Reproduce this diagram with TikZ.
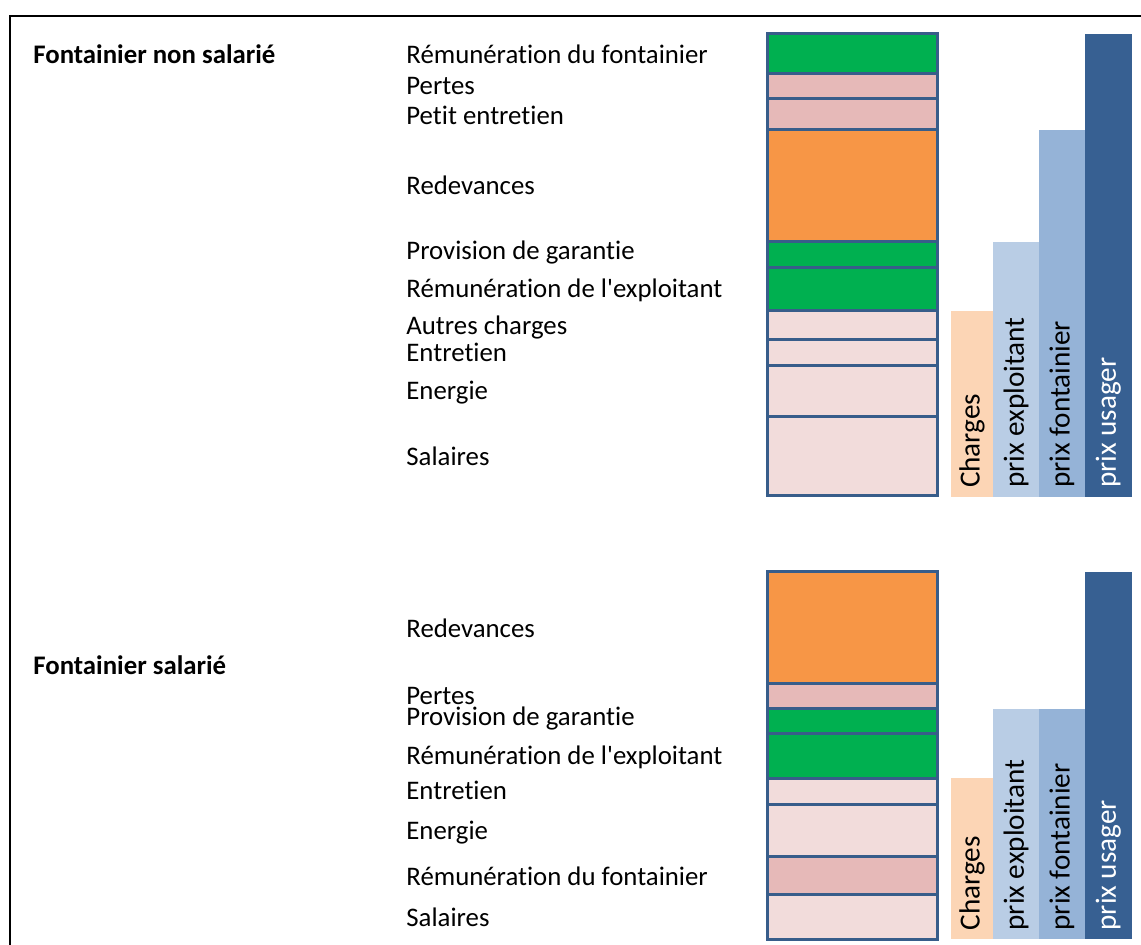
\documentclass[tikz,border=0pt]{standalone}
\usepackage{fontspec}
\setmainfont{Carlito}[Ligatures={NoCommon}]
\usepackage{tikz}
\definecolor{qqbqvq}{rgb}{0.,0.6901960784313725,0.3137254901960784}
\definecolor{ewbzby}{rgb}{0.9019607843137255,0.7254901960784313,0.7215686274509804}
\definecolor{fxzwuw}{rgb}{0.9686274509803922,0.5882352941176471,0.27450980392156865}
\definecolor{fsdcdb}{rgb}{0.9490196078431372,0.8627450980392157,0.8588235294117647}
\definecolor{tyvdya}{rgb}{0.2196078431372549,0.36470588235294116,0.5411764705882353}
\definecolor{fcdvbv}{rgb}{0.9882352941176471,0.8352941176470589,0.7098039215686275}
\definecolor{bzcdev}{rgb}{0.7254901960784313,0.803921568627451,0.8980392156862745}
\definecolor{zvbtdx}{rgb}{0.5843137254901961,0.7019607843137254,0.8431372549019608}
\definecolor{txwqzs}{rgb}{0.21568627450980393,0.3764705882352941,0.5725490196078431}
\begin{document}
\begin{tikzpicture}[x=0.5pt,y=-0.5pt,font=\fontsize{13.4pt}{16pt}\selectfont,
  lbl/.style={anchor=base west,inner sep=0pt},
  seg/.style={line width=1.5pt,draw=tyvdya},
  barlbl/.style={rotate=90,anchor=west,inner sep=4.2pt,font=\fontsize{14.6pt}{17pt}\selectfont}]
\useasboundingbox (0,0) rectangle (1141,945);
\clip (0,0) rectangle (1141,945);
\draw [line width=1.2pt,color=black] (10,16) rectangle (1200,1000);
% fontainier non salarie
\node[lbl,font=\fontsize{13.4pt}{16pt}\selectfont\bfseries] (titreA) at (33,64) {Fontainier non salarié};
\draw [seg,fill=qqbqvq] (767,34) rectangle (937,73.3);
\draw [seg,fill=ewbzby] (767,73.3) rectangle (937,98.3);
\draw [seg,fill=ewbzby] (767,98.3) rectangle (937,130);
\draw [seg,fill=fxzwuw] (767,130) rectangle (937,241.7);
\draw [seg,fill=qqbqvq] (767,241.7) rectangle (937,267.3);
\draw [seg,fill=qqbqvq] (767,267.3) rectangle (937,311);
\draw [seg,fill=fsdcdb] (767,311) rectangle (937,340);
\draw [seg,fill=fsdcdb] (767,340) rectangle (937,365.3);
\draw [seg,fill=fsdcdb] (767,365.3) rectangle (937,416.7);
\draw [seg,fill=fsdcdb] (767,416.7) rectangle (937,496);
\node[lbl] (remfA) at (406,63.3) {Rémunération du fontainier};
\node[lbl] (pertA) at (406,95) {Pertes};
\node[lbl] (petA) at (406,124.3) {Petit entretien};
\node[lbl] (redA) at (406,195) {Redevances};
\node[lbl] (provA) at (406,259.3) {Provision de garantie};
\node[lbl] (remeA) at (406,297.7) {Rémunération de l\textquotesingle exploitant};
\node[lbl] (autA) at (406,335) {Autres charges};
\node[lbl] (entA) at (406,361.7) {Entretien};
\node[lbl] (enerA) at (406,400) {Energie};
\node[lbl] (salA) at (406,466) {Salaires};
\fill [color=fcdvbv] (951,311) rectangle (993,496.7);
\fill [color=bzcdev] (993,241.7) rectangle (1039,496.7);
\fill [color=zvbtdx] (1039,130) rectangle (1085,496.7);
\fill [color=txwqzs] (1085,34) rectangle (1131.7,496.7);
\node[barlbl] (chgA) at (972,496.7) {Charges};
\node[barlbl] (pexA) at (1016,496.7) {prix exploitant};
\node[barlbl] (pfoA) at (1062,496.7) {prix fontainier};
\node[barlbl,color=white] (pusA) at (1108.3,496.7) {prix usager};
% fontainier salarie
\node[lbl,font=\fontsize{13.4pt}{16pt}\selectfont\bfseries] (titreB) at (33,674.3) {Fontainier salarié};
\draw [seg,fill=fxzwuw] (767,571.7) rectangle (937,683.3);
\draw [seg,fill=ewbzby] (767,683.3) rectangle (937,708.3);
\draw [seg,fill=qqbqvq] (767,708.3) rectangle (937,733.3);
\draw [seg,fill=qqbqvq] (767,733.3) rectangle (937,778.3);
\draw [seg,fill=fsdcdb] (767,778.3) rectangle (937,804.3);
\draw [seg,fill=fsdcdb] (767,804.3) rectangle (937,856.7);
\draw [seg,fill=ewbzby] (767,856.7) rectangle (937,895);
\draw [seg,fill=fsdcdb] (767,895) rectangle (937,940);
\node[lbl] (redB) at (406,637.3) {Redevances};
\node[lbl] (pertB) at (406,705) {Pertes};
\node[lbl] (provB) at (406,726) {Provision de garantie};
\node[lbl] (remeB) at (406,765) {Rémunération de l\textquotesingle exploitant};
\node[lbl] (entB) at (406,800) {Entretien};
\node[lbl] (enerB) at (406,840) {Energie};
\node[lbl] (remfB) at (406,885) {Rémunération du fontainier};
\node[lbl] (salB) at (406,926.7) {Salaires};
\fill [color=fcdvbv] (951,778.3) rectangle (993,939.3);
\fill [color=bzcdev] (993,709) rectangle (1039,939.3);
\fill [color=zvbtdx] (1039,709) rectangle (1085,939.3);
\fill [color=txwqzs] (1085,572.3) rectangle (1131.7,939.3);
\node[barlbl] (chgB) at (972,939.3) {Charges};
\node[barlbl] (pexB) at (1016,939.3) {prix exploitant};
\node[barlbl] (pfoB) at (1062,939.3) {prix fontainier};
\node[barlbl,color=white] (pusB) at (1108.3,939.3) {prix usager};
\end{tikzpicture}
\end{document}
